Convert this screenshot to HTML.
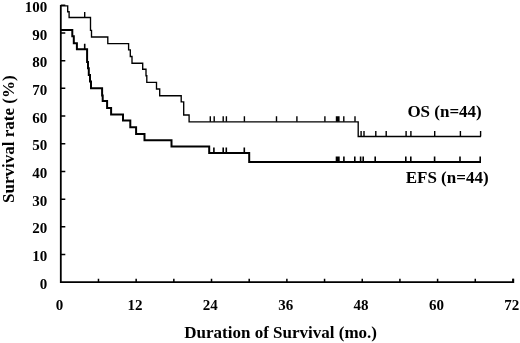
<!DOCTYPE html>
<html><head><meta charset="utf-8"><style>
html,body{margin:0;padding:0;background:#fff;}
body{width:520px;height:343px;overflow:hidden;}
svg{display:block;will-change:transform;}
text{font-family:"Liberation Serif",serif;font-weight:bold;fill:#000;}
</style></head><body>
<svg width="520" height="343" viewBox="0 0 520 343">
<rect width="520" height="343" fill="#fff"/>
<g fill="none" stroke="#000" stroke-linecap="butt" stroke-linejoin="miter">
<path d="M60.8,5 V282.2 H513.3 V278.7" stroke-width="1.8"/>
<path d="M60.8,254.51 H65.3 M60.8,226.82 H65.3 M60.8,199.13 H65.3 M60.8,171.44 H65.3 M60.8,143.75 H65.3 M60.8,116.06 H65.3 M60.8,88.37 H65.3 M60.8,60.68 H65.3 M60.8,32.99 H65.3 M60.8,5.30 H65.3" stroke-width="1.5"/>
<path d="M98.48,282.2 V278.7 M136.16,282.2 V278.7 M173.84,282.2 V278.7 M211.52,282.2 V278.7 M249.20,282.2 V278.7 M286.88,282.2 V278.7 M324.56,282.2 V278.7 M362.24,282.2 V278.7 M399.92,282.2 V278.7 M437.60,282.2 V278.7 M475.28,282.2 V278.7 M512.96,282.2 V278.7" stroke-width="1.5"/>
<path d="M61,5.9 H67.7 V11.7 H69.1 V17.5 H90.5 V30.4 H91.5 V37 H107.8 V43.6 H128.6 V49.8 H130.3 V56.5 H132 V63.2 H142.7 V69.2 H146 V75.7 H146.8 V82.3 H156.5 V89 H159.7 V95.7 H181.2 V101.9 H183.7 V115 H189.1 V121.8 H358.2 V136.5 H481" stroke-width="1.35"/>
<path d="M84.7,17.5 V12.0 M210.3,121.8 V116.3 M214.2,121.8 V116.3 M223.2,121.8 V116.3 M226.4,121.8 V116.3 M244.4,121.8 V116.3 M276.5,121.8 V116.3 M296.9,121.8 V116.3 M324.9,121.8 V116.3 M336.5,121.8 V116.3 M337.7,121.8 V116.3 M338.9,121.8 V116.3 M343.8,121.8 V116.3 M355,121.8 V116.3 M361.1,136.5 V131.0 M364,136.5 V131.0 M375.8,136.5 V131.0 M386.2,136.5 V131.0 M406.1,136.5 V131.0 M410.9,136.5 V131.0 M434.7,136.5 V131.0 M460.4,136.5 V131.0 M480.6,136.5 V131.0" stroke-width="1.4"/>
<path d="M61,30.1 H72.3 V36.2 H73.8 V43.3 H76.9 V49.2 H87.1 V62 H88 V68.3 H88.8 V74.9 H90 V81.4 H91 V88.2 H102.1 V95.4 H102.7 V101 H107.1 V107.9 H111.1 V114.4 H123 V120.6 H130.3 V127.3 H136.1 V133.9 H144.5 V140.2 H171.5 V146.6 H209.2 V153 H249.2 V161.9 H481" stroke-width="2"/>
<path d="M84.7,49.2 V43.7 M213.9,153 V147.5 M223.2,153 V147.5 M226.3,153 V147.5 M244.3,153 V147.5 M336.5,161.9 V156.4 M337.7,161.9 V156.4 M338.9,161.9 V156.4 M343.9,161.9 V156.4 M354.8,161.9 V156.4 M360.6,161.9 V156.4 M363.2,161.9 V156.4 M375.2,161.9 V156.4 M405.8,161.9 V156.4 M410.8,161.9 V156.4 M434.6,161.9 V156.4 M460,161.9 V156.4 M480.2,161.9 V156.4" stroke-width="1.6"/>
</g>
<g font-size="15"><text x="47.3" y="288.80" text-anchor="end">0</text><text x="47.3" y="261.11" text-anchor="end">10</text><text x="47.3" y="233.42" text-anchor="end">20</text><text x="47.3" y="205.73" text-anchor="end">30</text><text x="47.3" y="178.04" text-anchor="end">40</text><text x="47.3" y="150.35" text-anchor="end">50</text><text x="47.3" y="122.66" text-anchor="end">60</text><text x="47.3" y="94.97" text-anchor="end">70</text><text x="47.3" y="67.28" text-anchor="end">80</text><text x="47.3" y="39.59" text-anchor="end">90</text><text x="47.3" y="11.90" text-anchor="end">100</text></g>
<g font-size="15"><text x="59.60" y="310.1" text-anchor="middle">0</text><text x="134.96" y="310.1" text-anchor="middle">12</text><text x="210.32" y="310.1" text-anchor="middle">24</text><text x="285.68" y="310.1" text-anchor="middle">36</text><text x="361.04" y="310.1" text-anchor="middle">48</text><text x="436.40" y="310.1" text-anchor="middle">60</text><text x="511.76" y="310.1" text-anchor="middle">72</text></g>
<text x="184.3" y="338" font-size="17">Duration of Survival (mo.)</text>
<text transform="translate(14.1,202.9) rotate(-90)" font-size="17">Survival rate (%)</text>
<text x="407.4" y="116.8" font-size="17">OS (n=44)</text>
<text x="405.7" y="183.1" font-size="17">EFS (n=44)</text>
</svg>
</body></html>
